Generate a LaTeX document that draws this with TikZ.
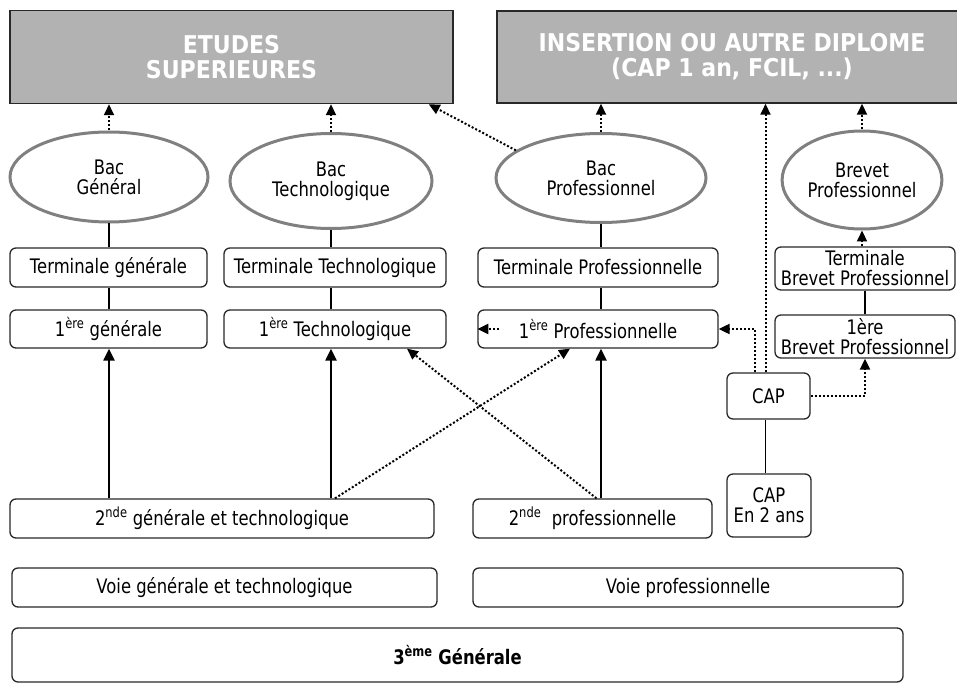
\documentclass[tikz,border=0pt]{standalone}
\usepackage{fontspec}
\setmainfont{DejaVu Sans}[FakeStretch=0.82]
\newfontfamily\headfont{DejaVu Sans}[FakeStretch=0.9]
\usetikzlibrary{arrows.meta,shapes.geometric}
\definecolor{headgray}{RGB}{178,178,178}
\definecolor{ringgray}{RGB}{128,128,128}
\definecolor{edgegray}{RGB}{40,40,40}
\begin{document}
\begin{tikzpicture}[x=1pt,y=-1pt,
    every node/.style={inner sep=2pt, font=\fontsize{20}{20}\selectfont},
    headbox/.style={draw=edgegray, line width=1.5pt, fill=headgray, text=white, align=center,
        font=\headfont\bfseries\fontsize{24.5}{25}\selectfont},
    classbox/.style={draw=edgegray, line width=1.3pt, rounded corners=6pt, align=center},
    bacring/.style={ellipse, draw=ringgray, line width=3pt, align=center},
    link/.style={line width=1.3pt},
    uparrow/.style={line width=2.2pt, -{Triangle[length=12pt,width=11pt]}},
    dotarrow/.style={line width=2pt, dash pattern=on 2pt off 2pt, -{Triangle[length=11pt,width=10pt]}}]
    \useasboundingbox (0,0) rectangle (957,684);
    % sorties
    \node[headbox, minimum width=443, minimum height=93] (etudes) at (231.5,57) {ETUDES\\SUPERIEURES};
    \node[headbox, minimum width=470, minimum height=92] (insertion) at (732,57) {INSERTION OU AUTRE DIPLOME\\(CAP 1 an, FCIL, ...)};
    % diplomes
    \node[bacring, minimum width=198, minimum height=90] (bacg) at (109,177) {Bac\\Général};
    \node[bacring, minimum width=202, minimum height=95] (bact) at (331,181) {Bac\\Technologique};
    \node[bacring, minimum width=210, minimum height=89] (bacp) at (601,178) {Bac\\Professionnel};
    \node[bacring, minimum width=158, minimum height=98] (brevet) at (862,180) {Brevet\\Professionnel};
    % classes
    \node[classbox, minimum width=197, minimum height=39] (termg) at (108.5,267.5) {Terminale générale};
    \node[classbox, minimum width=222, minimum height=39] (termt) at (335,267.5) {Terminale Technologique};
    \node[classbox, minimum width=240, minimum height=39] (termp) at (598,267.5) {Terminale Professionnelle};
    \node[classbox, minimum width=180, minimum height=43] (termbp) at (865,268.5) {Terminale\\Brevet Professionnel};
    \node[classbox, minimum width=197, minimum height=38] (premg) at (108.5,329) {1\textsuperscript{ère} générale};
    \node[classbox, minimum width=222, minimum height=38] (premt) at (335,329) {1\textsuperscript{ère} Technologique};
    \node[classbox, minimum width=240, minimum height=38] (premp) at (598,329) {1\textsuperscript{ère} Professionnelle};
    \node[classbox, minimum width=180, minimum height=43] (prembp) at (865,336.5) {1ère\\Brevet Professionnel};
    \node[classbox, minimum width=83, minimum height=46] (cap) at (768.5,396) {CAP};
    \node[classbox, minimum width=84, minimum height=63] (captwo) at (769,505.5) {CAP\\En 2 ans};
    \node[classbox, minimum width=424, minimum height=39] (sndg) at (222,518.5) {2\textsuperscript{nde} générale et technologique};
    \node[classbox, minimum width=239, minimum height=39] (sndp) at (592.5,518.5) {2\textsuperscript{nde}\ \ professionnelle};
    \node[classbox, minimum width=425, minimum height=39] (voieg) at (224.5,587.5) {Voie générale et technologique};
    \node[classbox, minimum width=430, minimum height=39] (voiep) at (688,587.5) {Voie professionnelle};
    \node[classbox, minimum width=891, minimum height=54] (troisieme) at (457.5,655) {\textbf{3\textsuperscript{ème} Générale}};
    % vers les sorties
    \draw[dotarrow] (bacg.north) -- (bacg.north |- etudes.south);
    \draw[dotarrow] (bact.north) -- (bact.north |- etudes.south);
    \draw[dotarrow] (bacp.162) -- ([xshift=-25]etudes.south east);
    \draw[dotarrow] (bacp.north) -- (bacp.north |- insertion.south);
    \draw[dotarrow] (brevet.north) -- (brevet.north |- insertion.south);
    \draw[dotarrow] ([xshift=-3]cap.north) -- ([xshift=-3]cap.north |- insertion.south);
    % filieres
    \draw[link] (bacg.south) -- (bacg.south |- termg.north);
    \draw[link] (bacg.south |- termg.south) -- (bacg.south |- premg.north);
    \draw[link] (bact.south) -- (bact.south |- termt.north);
    \draw[link] (bact.south |- termt.south) -- (bact.south |- premt.north);
    \draw[link] (bacp.south) -- (bacp.south |- termp.north);
    \draw[link] (bacp.south |- termp.south) -- (bacp.south |- premp.north);
    \draw[dotarrow] (brevet.south |- termbp.north) -- (brevet.south);
    \draw[link] (prembp.north) -- (termbp.south);
    \draw[uparrow] (bacg.south |- sndg.north) -- (bacg.south |- premg.south);
    \draw[uparrow] (bact.south |- sndg.north) -- (bact.south |- premt.south);
    \draw[uparrow] (bacp.south |- sndp.north) -- (bacp.south |- premp.south);
    % passerelles
    \draw[dotarrow] ([xshift=113]sndg.north) -- ([xshift=-28]premp.south);
    \draw[dotarrow] ([xshift=4]sndp.north) -- ([xshift=72]premt.south);
    \draw[dotarrow] ([xshift=22]premp.west) -- (premp.west);
    \draw[dotarrow] ([xshift=-14]cap.north) |- (premp.east);
    \draw[dotarrow] (cap.east) -| (prembp.south);
    \draw[link] ([xshift=-3]cap.south) -- ([xshift=-3]cap.south |- captwo.north);
\end{tikzpicture}
\end{document}
